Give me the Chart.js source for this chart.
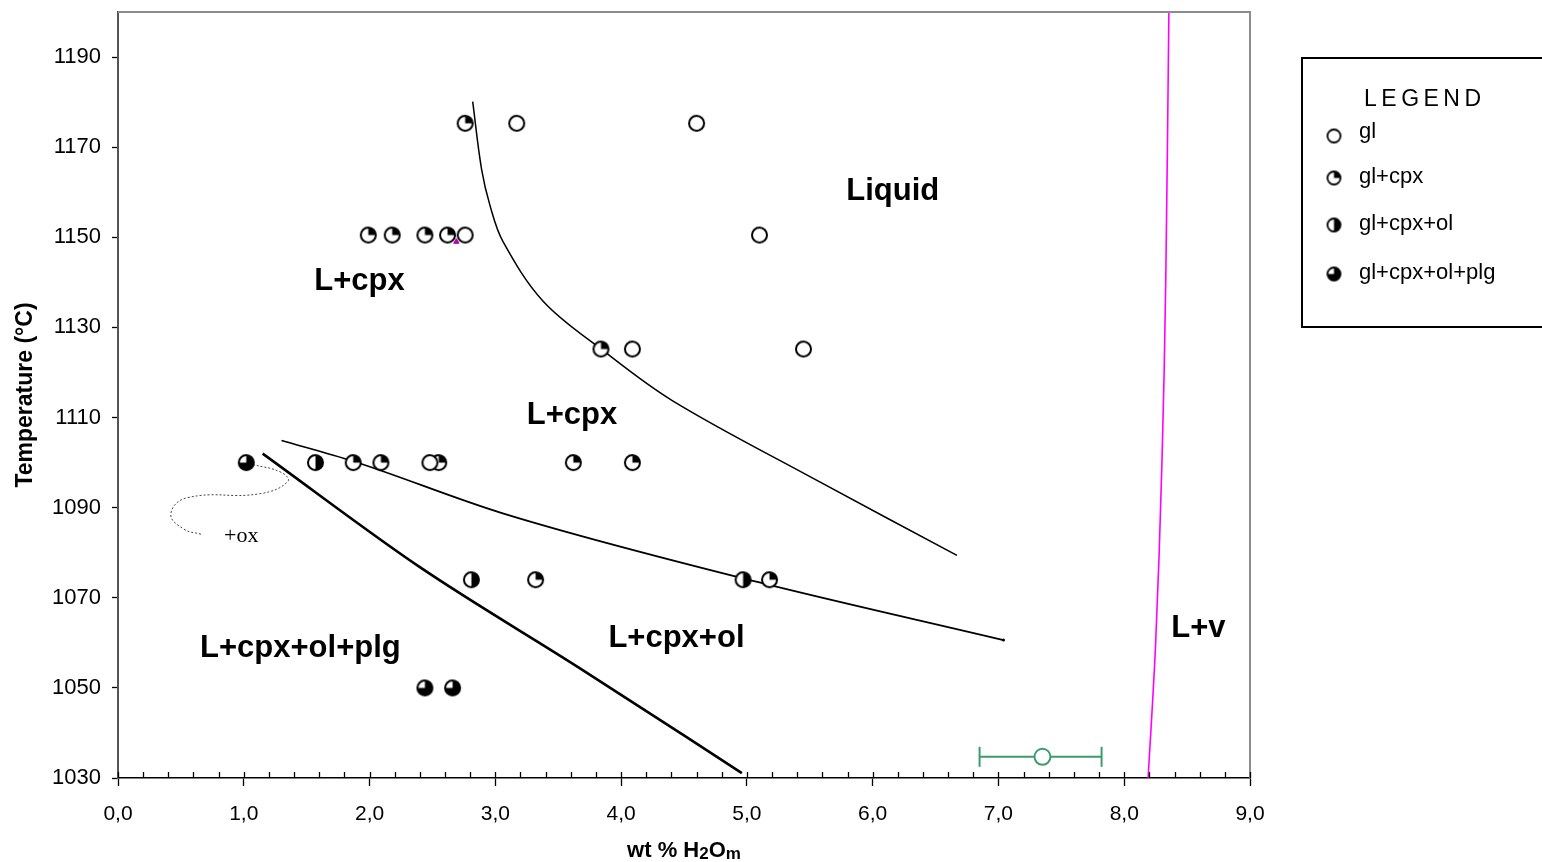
<!DOCTYPE html>
<html>
<head>
<meta charset="utf-8">
<script src="https://cdn.jsdelivr.net/npm/chart.js@4.4.0/dist/chart.umd.min.js"></script>
<style>
html,body{margin:0;padding:0;background:#fff;}
#wrap{position:relative;width:1542px;height:862px;}
</style>
</head>
<body>
<div id="wrap"><canvas id="phaseChart" width="1542" height="862"></canvas></div>
<script>
// run products: [wt% H2O, T]
const glRuns = [[3.17,1175.3],[4.60,1175.3],[2.76,1150.5],[5.10,1150.5],[4.09,1125.2],[5.45,1125.2],[2.48,1100]];
const cpxRuns = [[2.76,1175.3],[1.99,1150.5],[2.18,1150.5],[2.44,1150.5],[2.62,1150.5],[3.84,1125.2],
  [1.87,1100],[2.09,1100],[2.55,1100],[3.62,1100],[4.09,1100],[3.32,1074],[5.18,1074]];
const olRuns = [[1.57,1100],[2.81,1074],[4.97,1074]];
const plgRuns = [[1.02,1100],[2.44,1050],[2.66,1050]];
const oddRun = [[2.69,1149]];

// analytical uncertainty example
const errPoint = [7.35,1034.7];
const errRange = [6.85,7.82];

// phase boundaries
const liquidusX = [2.82,2.89,2.96,3.06,3.38,3.85,4.41,5.52,6.67];
const liquidusT = [1180.1,1165.2,1156.8,1149.1,1135.8,1125.0,1113.7,1096.6,1079.4];
const olInX = [1.30,1.87,3.04,4.97,7.04];
const olInT = [1104.9,1100.3,1088.9,1074.3,1060.6];
const plgInX = [1.15,2.40,3.67,4.96];
const plgInT = [1102.0,1076.8,1054.4,1031.1];
const vapourX = [8.19,8.25,8.30,8.33,8.355];
const vapourT = [1030,1060,1100,1140,1200];
const oxX = [1.07,1.30,1.35,1.13,0.55,0.42,0.52,0.66];
const oxT = [1099.6,1097.8,1095.8,1093.1,1092.2,1088.6,1085.3,1084.1];

const yTicks = [1030,1050,1070,1090,1110,1130,1150,1170,1190];

const fieldLabels = [
  {text:"Liquid", x:6.16, y:1160.1},
  {text:"L+cpx", x:1.92, y:1140.2},
  {text:"L+cpx", x:3.61, y:1110.4},
  {text:"L+cpx+ol+plg", x:1.45, y:1058.8},
  {text:"L+cpx+ol", x:4.44, y:1061.0},
  {text:"L+v", x:8.59, y:1063.3}
];

const legendItems = [
  {kind:"gl", text:"gl"},
  {kind:"cpx", text:"gl+cpx"},
  {kind:"ol", text:"gl+cpx+ol"},
  {kind:"plg", text:"gl+cpx+ol+plg"}
];

const FONT = 'Arial, "Liberation Sans", sans-serif';

function toXY(arr){ return arr.map(p=>({x:p[0], y:p[1]})); }
function zipXY(xs, ys){ return xs.map((v,i)=>({x:v, y:ys[i]})); }

// pie-filled circle markers
function makeMarker(kind, r, lw){
  const size = Math.ceil(2*r + lw + 2);
  const c = document.createElement("canvas");
  c.width = size; c.height = size;
  const g = c.getContext("2d");
  const cx = size/2, cy = size/2;
  g.beginPath(); g.arc(cx,cy,r,0,Math.PI*2); g.fillStyle="#fff"; g.fill();
  let a1 = null;
  if(kind==="cpx") a1 = 0;
  if(kind==="ol") a1 = Math.PI/2;
  if(kind==="plg") a1 = Math.PI;
  if(a1!==null){
    g.beginPath(); g.moveTo(cx,cy); g.arc(cx,cy,r,-Math.PI/2,a1); g.closePath();
    g.fillStyle="#000"; g.fill();
  }
  g.beginPath(); g.arc(cx,cy,r,0,Math.PI*2);
  g.lineWidth = lw; g.strokeStyle="#000"; g.stroke();
  return c;
}

const mk = {};
["gl","cpx","ol","plg"].forEach(k=>{
  mk[k] = makeMarker(k, 7.5, 2);
  mk[k+"_leg"] = makeMarker(k, 6.5, 1.8);
});

function pointSet(label, arr, kind){
  return {label:label, data:toXY(arr), pointStyle:mk[kind], pointRadius:8, showLine:false, order:0};
}
function lineSet(label, xs, ys, color, width, extra){
  return Object.assign({label:label, data:zipXY(xs,ys), showLine:true, pointRadius:0,
    borderColor:color, borderWidth:width, tension:0.35, fill:false, order:2}, extra||{});
}

const frameAndTicks = {
  id:"frameAndTicks",
  afterDraw(chart){
    const ctx = chart.ctx, a = chart.chartArea, xs = chart.scales.x;
    ctx.save();
    // top/right frame
    ctx.strokeStyle="#8c8c8c"; ctx.lineWidth=2;
    ctx.beginPath(); ctx.moveTo(a.left, a.top); ctx.lineTo(a.right, a.top); ctx.lineTo(a.right, a.bottom); ctx.stroke();
    // inner x ticks, minor every 0.2
    ctx.strokeStyle="#000"; ctx.lineWidth=1.3;
    for(let i=0;i<=45;i++){
      const px = Math.round(xs.getPixelForValue(i*0.2))+0.5;
      ctx.beginPath(); ctx.moveTo(px, a.bottom); ctx.lineTo(px, a.bottom-6); ctx.stroke();
    }
    // region labels
    ctx.fillStyle="#000"; ctx.textAlign="center"; ctx.textBaseline="middle";
    ctx.font = "bold 31px " + FONT;
    fieldLabels.forEach(l=>{
      ctx.fillText(l.text, xs.getPixelForValue(l.x), chart.scales.y.getPixelForValue(l.y));
    });
    ctx.font = '22px "Liberation Serif", "Times New Roman", serif';
    ctx.fillText("+ox", xs.getPixelForValue(0.98), chart.scales.y.getPixelForValue(1083.6));

    // x axis title with subscripts
    const cx = (a.left+a.right)/2, ty = 857;
    const parts = [["wt % H",22,0],["2",17,2],["O",22,0],["m",17,2]];
    let w = 0;
    parts.forEach(p=>{ ctx.font="bold "+p[1]+"px "+FONT; w += ctx.measureText(p[0]).width; });
    let x0 = cx - w/2;
    ctx.textAlign="left"; ctx.textBaseline="alphabetic";
    parts.forEach(p=>{
      ctx.font="bold "+p[1]+"px "+FONT;
      ctx.fillText(p[0], x0, ty+p[2]);
      x0 += ctx.measureText(p[0]).width;
    });

    // legend box
    ctx.strokeStyle="#000"; ctx.lineWidth=2;
    ctx.strokeRect(1302, 58, 260, 269);
    ctx.font = "23px " + FONT; ctx.textAlign="left"; ctx.textBaseline="middle";
    ctx.letterSpacing = "4.5px";
    ctx.fillText("LEGEND", 1364, 100);
    ctx.letterSpacing = "0px";
    ctx.font = "22px " + FONT;
    const ly = [135,177,224,273];
    legendItems.forEach((it,i)=>{
      const m = mk[it.kind+"_leg"];
      ctx.drawImage(m, 1334 - m.width/2, ly[i] - m.height/2 + 1);
      ctx.fillText(it.text, 1359, ly[i] - (i===0?3:0));
    });
    ctx.restore();
  }
};

const green = "#3c9d6c";

new Chart(document.getElementById("phaseChart"), {
  type:"scatter",
  data:{
    datasets:[
      pointSet("gl", glRuns, "gl"),
      pointSet("gl+cpx", cpxRuns, "cpx"),
      pointSet("gl+cpx+ol", olRuns, "ol"),
      pointSet("gl+cpx+ol+plg", plgRuns, "plg"),
      {label:"odd", data:toXY(oddRun), pointStyle:"triangle", pointRadius:3,
        backgroundColor:"#b000b0", borderColor:"#b000b0", order:1},
      {label:"error", data:[{x:errPoint[0], y:errPoint[1]}], pointStyle:"circle", pointRadius:8,
        backgroundColor:"#fff", borderColor:green, borderWidth:2, order:0},
      {label:"errbar", data:[{x:errRange[0], y:errPoint[1]},{x:errRange[1], y:errPoint[1]}],
        showLine:true, borderColor:green, borderWidth:2, pointStyle:"line", rotation:90,
        pointRadius:10, pointBorderColor:green, pointBorderWidth:2, order:1},
      lineSet("liquidus", liquidusX, liquidusT, "#000", 1.5),
      lineSet("ol-in", olInX, olInT, "#000", 1.7, {cubicInterpolationMode:"monotone",
        pointRadius:[0,0,0,0,1.5], pointBackgroundColor:"#000", pointBorderWidth:0}),
      lineSet("plg-in", plgInX, plgInT, "#000", 2.6, {cubicInterpolationMode:"monotone"}),
      lineSet("vapour", vapourX, vapourT, "#ff00ff", 1.6),
      lineSet("ox", oxX, oxT, "#444", 1, {borderDash:[2,2], tension:0.45})
    ]
  },
  options:{
    responsive:false,
    animation:false,
    events:[],
    layout:{padding:{top:10, right:292, left:0, bottom:0}},
    plugins:{legend:{display:false}, tooltip:{enabled:false}},
    scales:{
      x:{
        type:"linear", min:0, max:9,
        ticks:{stepSize:1, color:"#000", padding:16, maxRotation:0, font:{family:FONT, size:21},
          callback:v=>v.toFixed(1).replace(".",",")},
        grid:{drawOnChartArea:false, tickLength:8, tickColor:"#000", tickWidth:1.3},
        border:{color:"#000", width:1.5},
        afterFit:s=>{ s.height = 84; s.paddingLeft = 0; s.paddingRight = 0; }
      },
      y:{
        type:"linear", min:1030, max:1200,
        afterBuildTicks:s=>{ s.ticks = yTicks.map(v=>({value:v})); },
        ticks:{color:"#000", padding:11, font:{family:FONT, size:22}, callback:v=>String(v)},
        grid:{drawOnChartArea:false, tickLength:6, tickColor:"#000", tickWidth:1.3},
        border:{color:"#555", width:2},
        title:{display:true, text:"Temperature (°C)", color:"#000",
          font:{family:FONT, size:23, weight:"bold"}, padding:{top:12, bottom:0}},
        afterFit:s=>{ s.width = 118; s.paddingTop = 0; s.paddingBottom = 0; }
      }
    }
  },
  plugins:[frameAndTicks]
});
</script>
</body>
</html>
